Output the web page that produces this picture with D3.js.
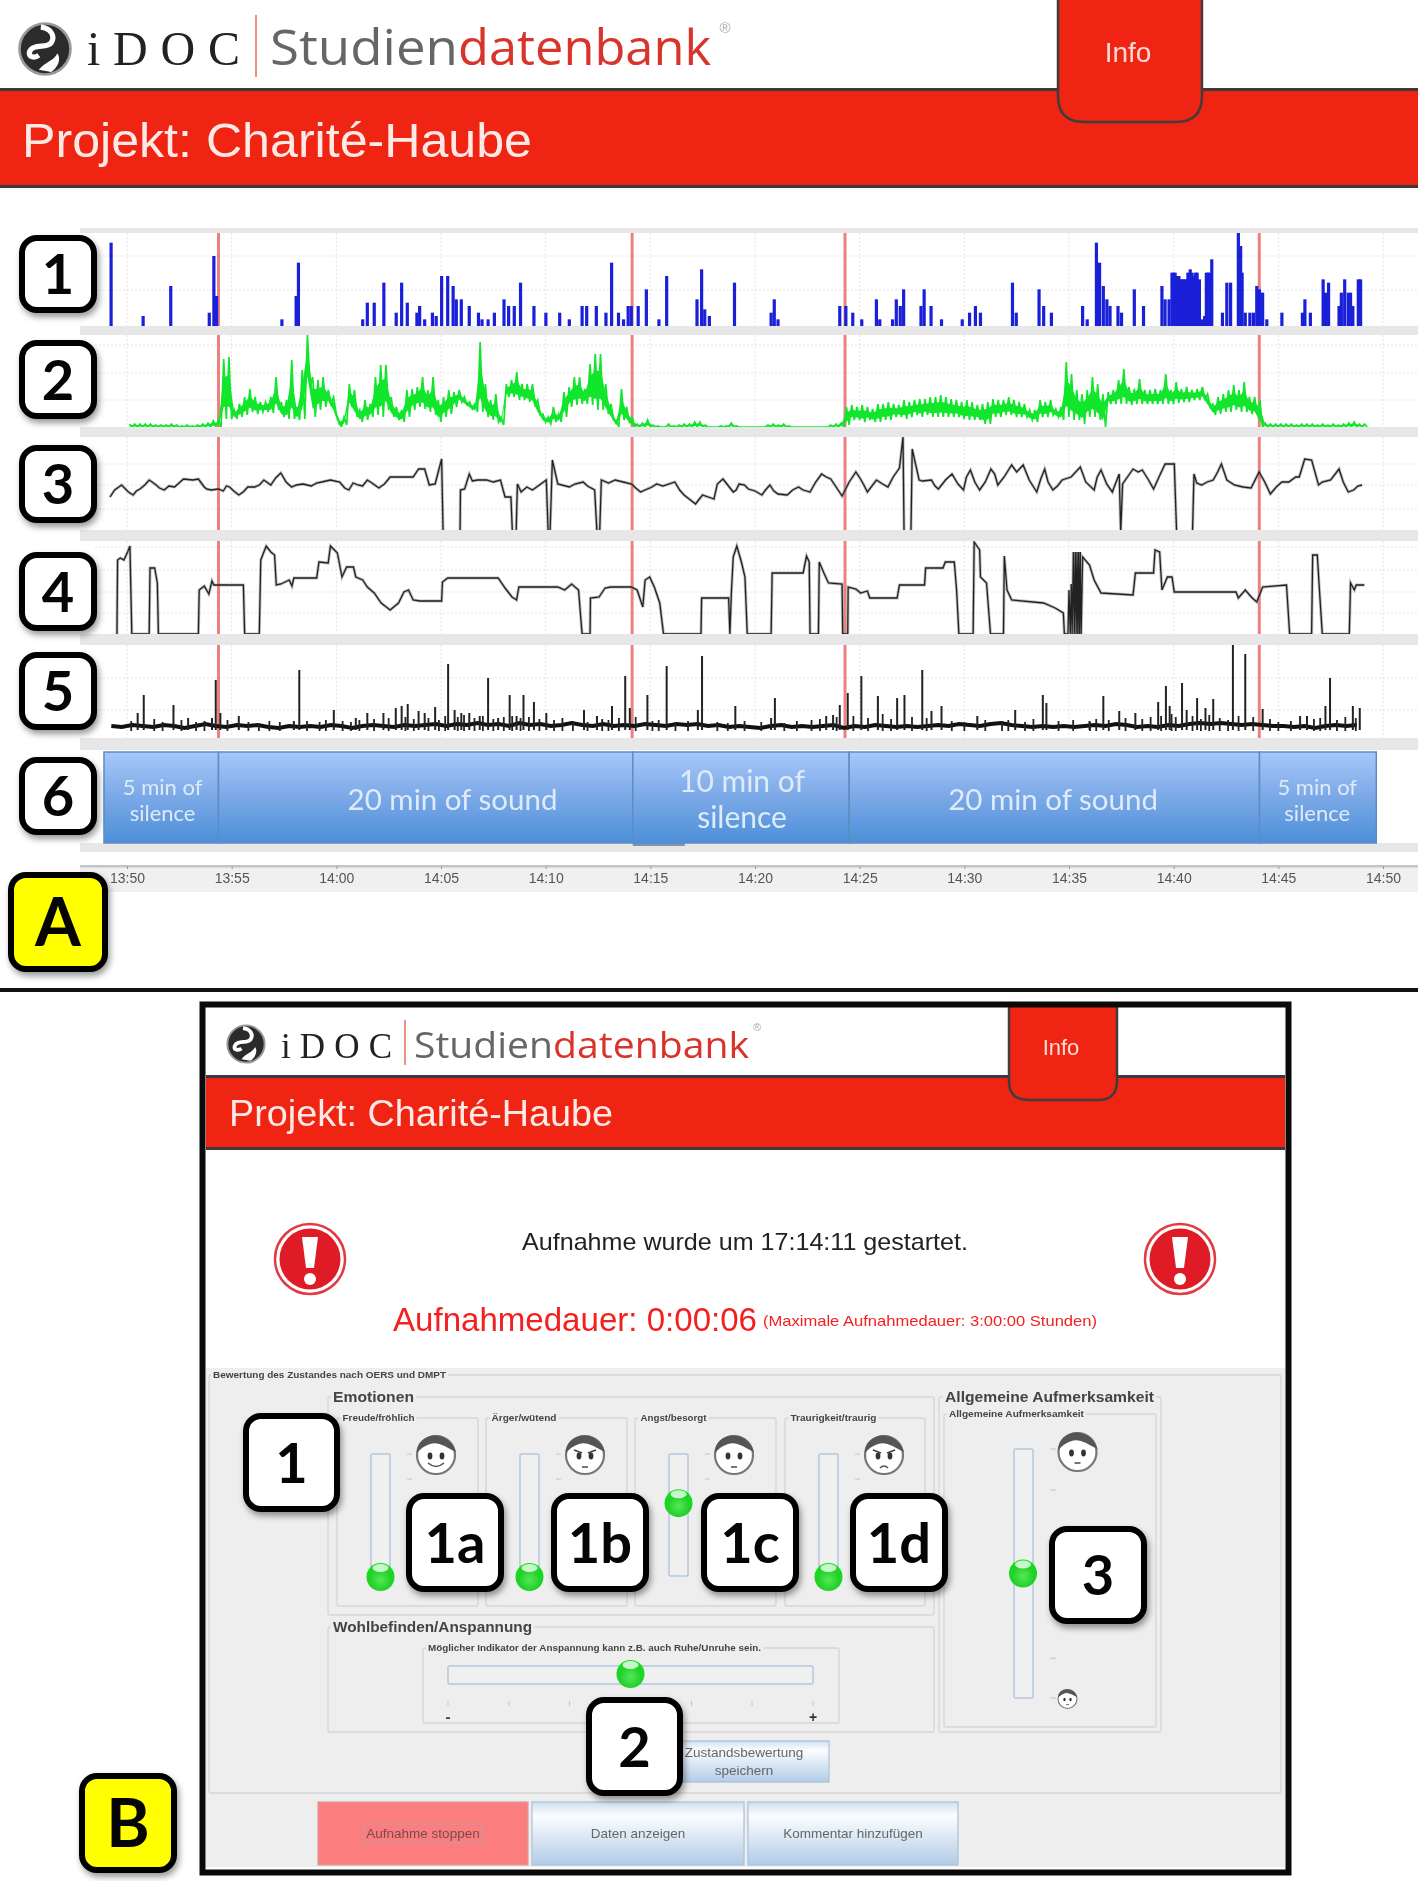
<!DOCTYPE html>
<html>
<head>
<meta charset="utf-8">
<title>iDOC Studiendatenbank</title>
<script src="https://cdn.jsdelivr.net/npm/d3@7"></script>
<style>
  html, body { margin: 0; padding: 0; background: #fff; }
  svg { display: block; filter: blur(0.7px); }
  text { font-family: "Liberation Sans", Arial, sans-serif; }
</style>
</head>
<body>
<div id="chart"></div>
<script>
// all time values are minutes after 13:50

// 1 - activity bars
var activityMinutes = [-0.76,0.77,2.09,3.93,4.15,4.28,7.40,8.08,8.19,11.26,11.48,11.81,12.27,12.86,13.12,13.39,13.85,13.98,14.22,14.59,14.77,15.03,15.32,15.58,15.73,15.97,16.35,16.79,16.96,17.25,17.55,18.01,18.23,18.50,18.80,19.44,20.01,20.67,21.13,21.74,21.96,22.42,22.88,23.15,23.48,23.72,23.94,24.09,24.42,24.81,25.41,25.78,27.23,27.45,27.60,27.82,29.02,30.77,30.92,31.10,34.05,34.34,34.67,35.10,35.80,35.96,36.57,36.75,36.94,37.10,37.93,38.08,38.41,38.91,39.90,40.25,40.53,40.77,42.30,42.48,43.57,43.79,44.16,45.65,45.87,46.31,46.46,46.64,46.81,46.96,47.34,47.51,48.12,48.56,49.44,49.59,49.78,49.92,50.0,50.07,50.16,50.25,50.33,50.40,50.49,50.58,50.68,50.79,50.88,50.97,51.05,51.12,51.23,51.38,51.48,51.56,51.64,51.71,51.82,52.33,52.54,52.72,53.09,53.2,53.27,53.42,53.64,53.81,53.97,54.1,54.25,54.45,55.17,56.15,56.27,56.53,57.14,57.25,57.31,57.40,57.90,58.01,58.17,58.34,58.45,58.56,58.82,58.93];
var activityLevels = [12.5,1.5,6,2,10.5,4.5,1,4.5,9.5,1,3.5,3.5,6.5,2,6.5,3.5,2,3,1,2,1.5,7.5,7.5,6,4,4,3,2,1,1,2,4,3,3,6.5,3,2,2,1,3,3,3,2,9.5,2,1,3,3,3,5.5,1,7.5,4,8.5,2.5,1.5,6.5,2,4,1,3,3,2,1,4,1,1,4,3,5.5,3,5.5,3,1,1,2,3,2,6.5,2,5.5,3,2,3,1,12.5,9.5,6,4,3,3,2,5.5,3,6,4,4,8,8,8,7.5,7.5,7,7,7,7,8,8.5,8,7.5,8,8,7,1,1.5,8,8,8,10,2,6.5,6.5,14,12,8,2,2,2,6,5.5,5,1,2,2,4,2,7,5,4,6.5,3,5,7,5,5,3,7,7];

// 2 - green band, one value every quarter minute from 0.12
var greenStart = 0.12, greenStep = 0.25;
var greenUpper = [3,3,3,3,3,2,2,2,3,2,1,2,1,2,3,4,6,
  7,68,70,17,23,30,38,30,25,25,
  30,50,25,27,67,20,57,92,50,47,
  50,37,30,7,10,43,37,17,27,23,
  50,62,62,30,20,17,37,38,40,50,
  37,50,27,30,37,35,37,30,25,23,
  85,43,27,33,10,43,47,55,43,43,
  43,27,13,10,20,13,35,40,50,50,
  38,63,73,73,43,23,7,38,20,10,
  3,4,7,2,1,0,3,1,2,3,
  3,5,5,2,0,0,1,1,4,1,
  0,0,0,0,0,2,3,2,3,1,
  0,0,0,0,0,0,0,2,3,4,
  20,22,20,22,20,18,23,23,25,23,
  22,27,25,27,28,28,30,30,32,30,
  28,27,25,27,25,22,23,25,28,27,
  27,30,27,25,23,17,17,27,25,27,
  18,20,65,53,37,33,37,50,43,33,
  35,37,47,58,40,38,48,37,37,38,
  37,53,37,45,38,40,37,38,40,33,
  23,30,33,37,42,37,45,30,30,27,
  4,3,3,3,3,3,2,3,3,3,2,3,2,3,2,3,4,5,3,3];
var greenLower = [0,0,0,0,0,0,0,0,0,0,0,0,0,0,0,0,0,
  0,8,8,8,10,12,15,13,15,15,
  14,17,10,8,8,7,8,40,10,17,
  20,23,13,0,2,20,10,5,7,10,
  12,10,17,10,7,5,10,17,20,18,
  15,12,5,10,13,20,25,22,18,15,
  15,10,7,5,2,30,30,27,27,25,
  22,12,5,3,5,5,10,20,22,23,
  23,22,17,17,13,7,0,7,5,0,
  0,0,0,0,0,0,0,0,0,0,
  0,0,0,0,0,0,0,0,0,0,
  0,0,0,0,0,0,0,0,0,0,
  0,0,0,0,0,0,0,0,0,0,
  2,7,7,5,7,5,5,7,7,10,
  10,8,10,12,10,12,10,10,10,10,
  10,10,8,7,7,7,3,3,10,10,
  12,12,10,10,10,7,5,10,10,12,
  10,7,10,7,7,3,10,10,7,0,
  23,23,23,23,22,23,23,23,23,23,
  23,23,23,24,25,25,27,27,28,20,
  12,13,15,15,17,15,15,13,12,0,
  0,0,0,0,0,0,0,0,0,0,0,0,0,0,0,0,0,0,0,0];

// 3 - black trace
var trace3Minutes = [-0.81,-0.59,-0.26,0.07,0.29,0.62,1.06,1.39,1.78,2.27,2.70,3.14,3.41,3.69,4.02,4.37,4.90,5.34,5.77,6.32,6.54,6.87,7.35,7.86,8.41,9.06,9.72,10.16,10.60,11.04,11.48,12.03,12.57,13.01,13.67,13.93,14.22,14.44,14.72,15.03,15.10,15.91,15.93,16.13,16.35,16.74,17.18,17.84,18.06,18.34,18.41,18.59,18.65,18.83,19.37,20.03,20.12,20.21,20.32,20.58,21.13,21.79,22.34,22.45,22.58,22.66,23.32,24.11,24.53,25.08,25.30,26.17,26.61,27.16,27.49,28.04,
  28.47,28.96,29.24,29.68,30.33,30.71,31.10,31.54,32.08,32.63,33.18,33.62,34.16,34.82,35.04,35.37,35.80,36.35,36.90,37.07,37.12,37.45,37.51,37.84,38.43,38.76,39.41,39.96,40.29,40.73,41.27,41.60,42.26,42.81,43.46,43.84,44.23,44.67,45.54,46.20,46.53,47.07,47.40,47.47,47.56,48.06,48.50,49.04,49.59,50.03,50.14,50.90,50.97,51.34,51.89,52.28,52.54,53.31,54.08,54.62,55.17,55.83,56.26,56.59,56.92,57.90,58.34,59.00,
  0.45,0.85,1.2,1.55,2.0,3.8,4.6,4.75,5.1,5.55,6.1,7.1,7.6,8.1,8.8,9.3,10.4,10.8,11.25,11.7,12.3,16.5,17.5,19.1,19.7,21.4,22.0,23.0,23.7,24.3,25.6,26.4,28.2,29.1,29.5,30.0,30.5,30.9,31.8,32.3,32.9,33.4,34.5,35.2,36.1,36.6,38.0,38.6,39.1,39.7,40.1,40.5,41.0,41.45,41.9,42.5,43.1,43.65,44.0,44.45,45.1,45.8,46.35,46.8,47.25,48.3,48.8,49.3,51.1,51.6,52.1,52.9,53.7,54.35,54.9,55.5,56.0,57.1,57.5,58.1,58.6,58.8];
var trace3Values = [35,42,47,40,37,43,52,47,42,45,53,52,53,45,42,43,45,37,45,47,52,47,59,45,48,49,52,50,42,47,52,44,55,55,55,63,63,47,48,73,0,0,42,43,58,52,52,52,35,35,0,0,48,40,42,52,0,0,72,48,45,50,42,0,0,52,52,48,40,45,48,50,37,28,37,33,
  53,40,48,43,37,47,38,37,45,40,58,53,36,60,53,40,52,45,64,95,0,0,83,52,52,43,58,42,62,42,63,47,67,67,40,63,42,52,65,42,62,40,58,0,48,63,62,43,68,68,0,0,58,47,52,68,52,45,60,38,50,55,73,72,47,63,40,47,
  41,47,50,44,46,43,41,46,41,40,45,54,50,47,46,50,44,49,46,49,48,51,50,45,47,48,46,49,50,44,46,42,48,42,47,41,42,41,42,42,50,55,50,47,48,55,51,46,52,48,55,50,50,58,55,60,52,53,50,46,55,50,55,48,50,60,52,55,49,50,60,47,44,50,45,50,55,50,52,50,42,46];

// 4 - black stepped trace
var trace4Minutes = [-0.48,-0.45,-0.32,-0.15,0.03,0.14,0.23,1.06,1.10,1.32,1.45,1.50,3.41,3.45,3.69,3.91,4.06,4.15,5.56,5.62,6.32,6.39,6.65,6.87,7.05,7.13,7.35,7.75,7.88,7.97,9.06,9.17,9.61,9.72,10.05,10.27,10.49,10.82,10.93,11.26,11.48,11.81,12.14,12.57,12.97,13.23,13.45,13.67,14.00,15.03,15.07,15.32,17.73,18.06,18.39,18.61,18.72,20.58,20.91,21.24,21.57,21.74,22.12,22.14,22.55,22.84,23.10,24.09,24.37,24.64,24.75,24.97,25.19,25.45,25.63,27.42,27.45,
  28.74,28.80,28.87,28.96,29.13,29.35,29.52,29.63,30.77,30.82,32.30,32.46,32.59,32.63,33.03,33.07,33.29,33.51,34.16,34.19,34.43,34.45,34.82,35.04,35.37,35.48,36.79,36.90,38.10,38.15,38.98,39.09,39.52,39.63,39.74,40.42,40.47,40.73,40.77,41.06,41.25,41.87,41.91,42.04,42.26,43.79,44.34,44.73,44.78,44.95,45.00,45.06,45.11,45.15,45.21,45.25,45.30,45.34,45.38,45.42,45.46,45.50,45.54,45.58,45.65,45.98,46.20,46.53,48.06,48.17,49.04,49.11,49.33,49.44,49.70,49.92,50.03,52.98,53.09,53.42,53.75,53.97,54.25,55.39,55.54,56.59,56.64,56.86,56.97,57.10,58.39,58.45,58.63,58.72,59.11];
var trace4Values = [0,74,76,74,82,88,0,0,66,66,51,0,0,44,48,40,53,49,49,0,0,74,88,82,79,49,50,54,48,56,56,72,71,88,81,57,67,67,57,54,47,41,31,24,31,42,44,34,33,33,52,56,56,46,37,34,47,47,44,50,44,0,0,36,37,46,47,47,44,27,54,57,47,31,0,0,36,
  36,0,41,77,88,72,57,0,0,61,61,78,72,0,0,72,61,51,50,0,0,47,45,41,43,36,36,49,49,66,66,72,72,44,0,0,92,84,57,51,0,0,78,44,34,31,26,21,0,0,44,0,50,0,82,0,82,0,82,0,82,0,82,0,77,69,54,41,39,61,61,84,82,44,57,57,42,42,36,44,36,32,47,49,0,0,79,79,42,0,0,51,44,49,49];

// 5 - ongoing level every half minute from -0.75, then the peaks on top of it
var levelStart = -0.75, levelStep = 0.5;
var levelValues = [12,11,13,12,11,13,12,10,12,14,
  12,11,13,12,13,11,10,12,11,12,
  11,13,12,10,12,13,12,11,13,12,
  13,14,12,14,13,15,13,14,12,15,
  13,14,12,13,15,13,12,14,12,13,
  12,14,13,12,14,13,14,12,13,11,
  12,11,10,12,13,11,12,11,12,13,
  10,12,11,13,12,11,12,11,12,13,
  12,14,13,12,14,15,13,12,11,12,
  11,12,11,12,13,12,14,13,11,12,
  11,13,12,14,15,14,15,14,13,14,
  13,12,12,11,12,10,12,13,12,13];
var peakMinutes = [0.51,0.80,2.22,2.92,4.06,4.24,4.46,5.34,7.97,8.23,9.88,10.93,11.48,12.25,12.84,13.12,13.41,13.93,14.22,14.72,15.34,15.65,15.97,16.35,16.85,17.25,17.73,18.28,18.61,18.94,19.44,20.03,21.83,22.45,23.17,23.80,24.02,24.86,25.78,27.27,27.47,29.06,30.77,30.95,33.40,33.73,34.05,34.43,35.08,35.87,36.79,37.14,37.99,38.43,38.91,40.62,42.43,43.75,43.92,45.98,46.64,47.40,48.17,49.26,49.63,49.81,50.40,50.62,51.12,51.52,51.89,52.83,53.42,54.25,56.04,56.37,57.25,57.47,58.56,58.89];
var peakValues = [25,43,33,20,20,58,25,22,17,68,28,20,25,25,30,32,34,27,25,31,74,28,25,25,22,60,20,43,22,43,36,25,28,22,32,62,30,43,72,28,82,32,20,40,22,23,33,45,62,42,40,43,68,27,32,22,28,43,35,17,42,27,25,36,52,32,55,28,40,30,39,94,84,29,22,22,32,60,32,30];
var minorMinutes = [0.2,1.3,1.7,2.6,3.3,3.7,4.8,5.8,6.3,6.8,7.3,8.6,9.2,9.5,10.3,10.7,11.1,11.8,12.5,13.3,13.7,14.4,14.9,15.2,15.8,16.1,16.6,17.0,17.5,18.0,18.4,18.8,19.2,19.7,20.4,20.8,21.3,22.0,22.7,23.0,23.5,24.3,25.1,25.4,26.2,26.8,28.2,28.7,29.5,30.3,31.4,32.0,32.7,33.1,33.9,34.7,35.4,36.1,36.5,37.5,38.2,39.4,40.0,41.0,41.8,42.1,42.9,43.3,44.5,45.2,46.0,46.3,46.9,47.7,48.5,48.9,49.4,49.9,50.1,50.9,51.3,51.7,52.2,52.6,53.1,53.8,54.6,55.0,55.6,56.7,57.0,57.8,58.2,58.7];
var minorValues = [17,19,16,18,16,17,18,16,15,17,16,17,16,18,17,16,18,19,20,21,19,20,18,22,21,23,20,22,19,21,22,20,21,19,18,20,17,16,19,18,20,21,17,18,16,17,16,15,17,16,15,17,18,19,21,22,20,24,19,21,20,17,16,18,17,18,16,19,17,18,16,19,18,20,19,21,22,24,21,22,19,23,20,18,22,21,19,16,17,19,20,18,21,20];

// 6 - protocol blocks
var blockStarts = [-1.1, 4.37, 24.16, 34.5, 54.1];
var blockEnd = 59.68;
var blockCenters = [1.7, 15.55, 29.38, 44.24, 56.86];
var blockLabels = [["5 min of", "silence"], ["20 min of sound"], ["10 min of", "silence"], ["20 min of sound"], ["5 min of", "silence"]];

var redMarks = [4.37, 24.13, 34.3, 54.09];

// panel B
var emotionLabels = ["Freude/fröhlich", "Ärger/wütend", "Angst/besorgt", "Traurigkeit/traurig"];
var emotionMoods = ["happy", "angry", "afraid", "sad"];
var emotionValues = [0, 0, 60, 0];
var tensionValue = 50;
var tensionTicks = [0, 16.7, 33.3, 50, 66.7, 83.3, 100];
var attentionValue = 50;
var attentionTicks = [100, 83.5, 16, 0];

var width = 1418, height = 1881;
var RED = "#f02413";

var svg = d3.select("#chart").append("svg")
  .attr("width", width)
  .attr("height", height)
  .style("background", "#fff");

var defs = svg.append("defs");

var shadow = defs.append("filter").attr("id", "shadow")
  .attr("x", "-20%").attr("y", "-20%").attr("width", "140%").attr("height", "140%");
shadow.append("feDropShadow").attr("dx", 2).attr("dy", 4).attr("stdDeviation", 3)
  .attr("flood-color", "#000").attr("flood-opacity", 0.4);

function gradient(id, stops) {
  var g = defs.append("linearGradient").attr("id", id)
    .attr("x1", 0).attr("y1", 0).attr("x2", 0).attr("y2", 1);
  stops.forEach(function (s) {
    g.append("stop").attr("offset", s[0]).attr("stop-color", s[1]);
  });
}
gradient("blockFill", [[0, "#a6c8fa"], [0.45, "#7fabe8"], [1, "#4c8fd8"]]);
gradient("buttonFill", [[0, "#cfe0f1"], [0.22, "#fbfdff"], [1, "#b2cce6"]]);

var knobFill = defs.append("radialGradient").attr("id", "knobFill")
  .attr("cx", "50%").attr("cy", "60%").attr("r", "55%");
knobFill.append("stop").attr("offset", 0).attr("stop-color", "#55e855");
knobFill.append("stop").attr("offset", 0.7).attr("stop-color", "#22d02a");
knobFill.append("stop").attr("offset", 1).attr("stop-color", "#10e018");

// time scale shared by all the traces
var t0 = new Date(2016, 0, 1, 13, 50);
var t = function (m) { return new Date(+t0 + m * 60000); };
var x = d3.scaleTime().domain([t(0), t(60)]).range([127, 1383]);
var tickTimes = x.ticks(d3.timeMinute.every(5));

var y1 = d3.scaleLinear().domain([0, 15]).range([326, 226]);
var y2 = d3.scaleLinear().domain([0, 100]).range([427, 327]);
var y3 = d3.scaleLinear().domain([0, 100]).range([532, 432]);
var y4 = d3.scaleLinear().domain([0, 100]).range([634, 534]);
var y5 = d3.scaleLinear().domain([0, 100]).range([738, 638]);

var panels = [
  { top: 233, bottom: 326, y: y1, grid: [5.4, 10.5] },
  { top: 335, bottom: 427, y: y2, grid: [27, 54, 82] },
  { top: 437, bottom: 530, y: y3, grid: [23, 47, 68] },
  { top: 541, bottom: 634, y: y4, grid: [21, 42, 64, 87] },
  { top: 645, bottom: 738, y: y5, grid: [28, 60] }
];

// ---------- header ----------
function logo(g, o) {
  var c = g.append("g").attr("transform", "translate(" + o.cx + "," + o.cy + ") scale(" + o.r / 25 + ")");
  c.append("circle").attr("r", 24.5).attr("fill", "#2b2b2b").attr("stroke", "#999").attr("stroke-width", 2.5);
  c.append("path").attr("d", "M-4,-21 C6,-20 10,-12 6,-6 C2,0 -12,-6 -15,3 C-16,8 -10,9 -6,6")
    .attr("fill", "none").attr("stroke", "#fff").attr("stroke-width", 5);
  c.append("path").attr("d", "M12,4 C8,12 0,12 -6,20 L6,22 C12,18 16,10 12,4 Z").attr("fill", "#fff");

  g.append("text").text("iDOC").attr("x", o.idoc[0]).attr("y", o.base)
    .attr("textLength", o.idoc[1] - o.idoc[0]).attr("lengthAdjust", "spacing")
    .style("font-family", "'Liberation Serif', serif").attr("font-size", o.idocSize).attr("fill", "#222");
  g.append("line").attr("x1", o.div[0]).attr("x2", o.div[0]).attr("y1", o.div[1]).attr("y2", o.div[2])
    .attr("stroke", "#e8776a").attr("stroke-width", 1.6);
  g.append("text").text("Studien").attr("x", o.stud[0]).attr("y", o.base)
    .attr("textLength", o.stud[1] - o.stud[0]).attr("lengthAdjust", "spacingAndGlyphs")
    .style("font-family", "'Open Sans', sans-serif").attr("font-size", o.wordSize).attr("fill", "#666");
  g.append("text").text("datenbank").attr("x", o.stud[1]).attr("y", o.base)
    .attr("textLength", o.bank - o.stud[1]).attr("lengthAdjust", "spacingAndGlyphs")
    .style("font-family", "'Open Sans', sans-serif").attr("font-size", o.wordSize).attr("fill", "#d8342c");
  g.append("text").text("®").attr("x", o.reg[0]).attr("y", o.reg[1]).attr("text-anchor", "middle")
    .attr("font-size", o.wordSize * 0.3).attr("fill", "#aaa");
}

function header(g, o) {
  g.append("rect").attr("x", o.x0).attr("y", o.line0).attr("width", o.x1 - o.x0).attr("height", o.bar1 - o.line0).attr("fill", "#3a3a3a");
  g.append("rect").attr("x", o.x0).attr("y", o.line0 + 3).attr("width", o.x1 - o.x0).attr("height", o.bar1 - o.line0 - 6).attr("fill", RED);
  var a = o.tab, r = a.r;
  g.append("path")
    .attr("d", "M" + a.x0 + "," + a.y0 + " V" + (a.y1 - r) + " Q" + a.x0 + "," + a.y1 + " " + (a.x0 + r) + "," + a.y1 +
      " H" + (a.x1 - r) + " Q" + a.x1 + "," + a.y1 + " " + a.x1 + "," + (a.y1 - r) + " V" + a.y0)
    .attr("fill", RED).attr("stroke", "#3d3d3d").attr("stroke-width", 2.5);
  g.append("text").text("Info").attr("x", (a.x0 + a.x1) / 2 - 2).attr("y", a.textY).attr("text-anchor", "middle")
    .attr("font-size", a.size).attr("fill", "#fbdcd4");
  g.append("text").text("Projekt: Charité-Haube").attr("x", o.title[0]).attr("y", o.title[2])
    .attr("textLength", o.title[1] - o.title[0]).attr("lengthAdjust", "spacingAndGlyphs")
    .attr("font-size", o.title[3]).attr("fill", "#fdeae6");
}

var top_ = svg.append("g");
header(top_, {
  x0: 0, x1: 1418, line0: 88, bar1: 188,
  tab: { x0: 1058, x1: 1202, y0: 0, y1: 122, r: 26, textY: 62, size: 28 },
  title: [22, 532, 157, 48]
});
logo(top_, { cx: 45, cy: 49, r: 26, idoc: [87, 240], base: 65, idocSize: 48, div: [256, 15, 77], stud: [270, 458], bank: 711, wordSize: 50, reg: [725, 33] });

// ---------- panel A, grid and traces ----------
var chart = svg.append("g");

panels.forEach(function (p) {
  var grid = chart.append("g").attr("stroke", "#e4e4e4").attr("stroke-dasharray", "2,2");
  grid.selectAll("line.v").data(tickTimes).enter().append("line")
    .attr("x1", function (d) { return x(d); }).attr("x2", function (d) { return x(d); })
    .attr("y1", p.top).attr("y2", p.bottom);
  grid.selectAll("line.h").data(p.grid).enter().append("line")
    .attr("x1", 95).attr("x2", 1418)
    .attr("y1", function (d) { return p.y(d); }).attr("y2", function (d) { return p.y(d); });
  // red marks between sound and silence
  chart.append("g").selectAll("line").data(redMarks).enter().append("line")
    .attr("x1", function (d) { return x(t(d)); }).attr("x2", function (d) { return x(t(d)); })
    .attr("y1", p.top).attr("y2", p.bottom)
    .attr("stroke", "#ef8080").attr("stroke-width", 3);
});

chart.append("g").selectAll("rect").data(activityMinutes).enter().append("rect")
  .attr("x", function (d) { return x(t(d)) - 1.6; })
  .attr("width", 3.2)
  .attr("y", function (d, i) { return y1(activityLevels[i]); })
  .attr("height", function (d, i) { return y1(0) - y1(activityLevels[i]); })
  .attr("fill", "#1a20d8");

// solid core of the green band, with the noisy outline drawn over it
var greenIdx = d3.range(greenUpper.length);
var greenArea = d3.area()
  .x(function (i) { return x(t(greenStart + i * greenStep)); })
  .y0(function (i) { return y2(greenLower[i] + (greenUpper[i] - greenLower[i]) * 0.2); })
  .y1(function (i) { return y2(greenUpper[i] - (greenUpper[i] - greenLower[i]) * 0.3); });
chart.append("path").attr("d", greenArea(greenIdx)).attr("fill", "#12e62c");

var zigzag = [];
greenIdx.forEach(function (i) {
  zigzag.push([greenStart + i * greenStep, greenUpper[i]]);
  zigzag.push([greenStart + (i + 0.5) * greenStep, greenLower[i]]);
});
chart.append("path")
  .attr("d", d3.line().x(function (d) { return x(t(d[0])); }).y(function (d) { return y2(d[1]); })(zigzag))
  .attr("fill", "none").attr("stroke", "#12e62c").attr("stroke-width", 1.7);

function trace(minutes, values, y) {
  var order = d3.range(minutes.length).sort(function (a, b) { return minutes[a] - minutes[b]; });
  var line = d3.line()
    .x(function (i) { return x(t(minutes[i])); })
    .y(function (i) { return y(values[i]); });
  chart.append("path").attr("d", line(order))
    .attr("fill", "none").attr("stroke", "#888").attr("stroke-opacity", 0.55).attr("stroke-width", 3);
  chart.append("path").attr("d", line(order))
    .attr("fill", "none").attr("stroke", "#222").attr("stroke-width", 1.3);
}
trace(trace3Minutes, trace3Values, y3);
trace(trace4Minutes, trace4Values, y4);

var levelLine = d3.line()
  .x(function (d, i) { return x(t(levelStart + i * levelStep)); })
  .y(function (d) { return y5(d); });
chart.append("path").attr("d", levelLine(levelValues))
  .attr("fill", "none").attr("stroke", "#111").attr("stroke-width", 4);
chart.append("g").selectAll("line").data(minorMinutes).enter().append("line")
  .attr("x1", function (d) { return x(t(d)); }).attr("x2", function (d) { return x(t(d)); })
  .attr("y1", y5(7))
  .attr("y2", function (d, i) { return y5(minorValues[i]); })
  .attr("stroke", "#222").attr("stroke-width", 1.8);
chart.append("g").selectAll("line").data(peakMinutes).enter().append("line")
  .attr("x1", function (d) { return x(t(d)); }).attr("x2", function (d) { return x(t(d)); })
  .attr("y1", y5(8))
  .attr("y2", function (d, i) { return y5(peakValues[i]); })
  .attr("stroke", "#222").attr("stroke-width", 2);

// gray bands between the panels
chart.append("g").selectAll("rect").data([[228, 233], [326, 335], [427, 437], [530, 541], [634, 645], [738, 750], [843, 852]])
  .enter().append("rect")
  .attr("x", 80).attr("width", width - 80)
  .attr("y", function (d) { return d[0]; })
  .attr("height", function (d) { return d[1] - d[0]; })
  .attr("fill", "#e7e7e7");

// ---------- protocol blocks ----------
var blocks = chart.append("g");
blocks.append("rect").attr("x", x(t(24.16))).attr("y", 842).attr("width", 52).attr("height", 4).attr("fill", "#7a94b8");
blockStarts.forEach(function (s, i) {
  var end = i < blockStarts.length - 1 ? blockStarts[i + 1] : blockEnd;
  var bx = x(t(s)), bw = x(t(end)) - bx;
  blocks.append("rect").attr("x", bx).attr("y", 752).attr("width", bw).attr("height", 91)
    .attr("fill", "url(#blockFill)").attr("stroke", "#5d8dc2").attr("stroke-width", 1.5);
  var lines = blockLabels[i];
  var size = lines.length == 1 ? 29.5 : (i == 2 ? 30 : 22);
  var baselines = lines.length == 1 ? [810] : (i == 2 ? [792, 828] : [795, 821]);
  lines.forEach(function (l, k) {
    blocks.append("text").text(l).attr("x", x(t(blockCenters[i]))).attr("y", baselines[k])
      .attr("text-anchor", "middle").attr("font-size", size)
      .style("font-family", "Lato, sans-serif").attr("fill", "#dfeafa");
  });
});

// ---------- time axis ----------
chart.append("rect").attr("x", 80).attr("y", 866).attr("width", width - 80).attr("height", 26).attr("fill", "#f0f0f0");
chart.append("rect").attr("x", 80).attr("y", 865).attr("width", width - 80).attr("height", 2.5).attr("fill", "#c4c4c4");
var axis = chart.append("g").attr("transform", "translate(0,866)")
  .call(d3.axisBottom(x).tickValues(tickTimes).tickFormat(d3.timeFormat("%H:%M")).tickSize(3).tickSizeOuter(0).tickPadding(4));
axis.select(".domain").remove();
axis.selectAll("line").attr("stroke", "#999");
axis.selectAll("text").attr("font-size", 14).attr("fill", "#555")
  .style("font-family", "'Liberation Sans', sans-serif");

// divider between A and B
svg.append("rect").attr("x", 0).attr("y", 988).attr("width", width).attr("height", 4).attr("fill", "#111");

// ---------- panel B ----------
var b = svg.append("g");
b.append("rect").attr("x", 206).attr("y", 1368).attr("width", 1079).attr("height", 499).attr("fill", "#eee");

header(b, {
  x0: 206, x1: 1285, line0: 1075, bar1: 1150,
  tab: { x0: 1009, x1: 1117, y0: 1007, y1: 1100, r: 19, textY: 1055, size: 22 },
  title: [229, 613, 1126, 36]
});
logo(b, { cx: 246, cy: 1044, r: 19, idoc: [281, 392], base: 1058, idocSize: 35, div: [405, 1020, 1065], stud: [414, 553], bank: 749, wordSize: 37, reg: [757, 1031] });

b.append("text").text("Aufnahme wurde um 17:14:11 gestartet.").attr("x", 522).attr("y", 1250)
  .attr("textLength", 446).attr("lengthAdjust", "spacingAndGlyphs").attr("font-size", 24).attr("fill", "#222");
b.append("text").text("Aufnahmedauer: 0:00:06").attr("x", 393).attr("y", 1331)
  .attr("textLength", 364).attr("lengthAdjust", "spacingAndGlyphs").attr("font-size", 33).attr("fill", "#f41f1f");
b.append("text").text("(Maximale Aufnahmedauer: 3:00:00 Stunden)").attr("x", 763).attr("y", 1326)
  .attr("textLength", 334).attr("lengthAdjust", "spacingAndGlyphs").attr("font-size", 15).attr("fill", "#f41f1f");

function warning(cx, cy) {
  var g = b.append("g").attr("transform", "translate(" + cx + "," + cy + ")");
  g.append("circle").attr("r", 35).attr("fill", "#fff").attr("stroke", "#e33a42").attr("stroke-width", 2.5);
  g.append("circle").attr("r", 30.5).attr("fill", "#df1c26");
  g.append("path").attr("d", "M-8,-22 H8 L4,9 H-4 Z").attr("fill", "#fff");
  g.append("circle").attr("cy", 20).attr("r", 6).attr("fill", "#fff");
}
warning(310, 1259);
warning(1180, 1259);

function fieldset(x0, y0, x1, y1, label, lx, lw, size, color) {
  b.append("rect").attr("x", x0).attr("y", y0).attr("width", x1 - x0).attr("height", y1 - y0)
    .attr("fill", "none").attr("stroke", "#d6d6d6").attr("stroke-width", 1.3).attr("rx", 2);
  var baseY = y0 + size * 0.36;
  b.append("rect").attr("x", lx - 2).attr("y", y0 - size * 0.7).attr("width", lw + 4).attr("height", size * 1.3).attr("fill", "#eee");
  b.append("text").text(label).attr("x", lx).attr("y", baseY)
    .attr("textLength", lw).attr("lengthAdjust", "spacingAndGlyphs")
    .attr("font-size", size).attr("font-weight", "bold").attr("fill", color || "#444");
}

fieldset(209, 1375, 1281, 1793, "Bewertung des Zustandes nach OERS und DMPT", 213, 233, 9.5);
fieldset(328, 1397, 934, 1615, "Emotionen", 333, 81, 14.5);
fieldset(328, 1627, 934, 1732, "Wohlbefinden/Anspannung", 333, 199, 15);
fieldset(939, 1397, 1161, 1732, "Allgemeine Aufmerksamkeit", 945, 209, 15);
fieldset(944, 1414, 1156, 1727, "Allgemeine Aufmerksamkeit", 949, 135, 9.5);
fieldset(423, 1648, 839, 1723, "Möglicher Indikator der Anspannung kann z.B. auch Ruhe/Unruhe sein.", 428, 333, 9.5);

function face(cx, cy, r, mood) {
  var g = b.append("g").attr("transform", "translate(" + cx + "," + cy + ") scale(" + r / 20 + ")");
  g.append("circle").attr("r", 19).attr("fill", "#fff").attr("stroke", "#777").attr("stroke-width", 2.2);
  g.append("path").attr("d", "M-19,-2 C-20,-22 12,-28 20,-3 C10,-8 2,-14 -6,-11 C-12,-9 -16,-6 -19,-2 Z").attr("fill", "#555");
  [-6, 6].forEach(function (ex) {
    g.append("ellipse").attr("cx", ex).attr("cy", 1).attr("rx", 2.4).attr("ry", 3.4).attr("fill", "#333");
  });
  var mouth = { happy: "M-8,8 Q0,15 8,8", angry: "M-3,12 H3", afraid: "M-3,12 H3", sad: "M-4,13 Q0,9 4,13", neutral: "M-3,11 H3" }[mood];
  g.append("path").attr("d", mouth).attr("fill", "none").attr("stroke", "#555").attr("stroke-width", 1.6);
  if (mood == "angry" || mood == "sad") {
    g.append("path").attr("d", "M-11,-5 L-3,-2 M11,-5 L3,-2").attr("stroke", "#444").attr("stroke-width", 1.8);
  }
}

function knob(cx, cy) {
  b.append("circle").attr("cx", cx).attr("cy", cy).attr("r", 14).attr("fill", "url(#knobFill)");
  b.append("ellipse").attr("cx", cx).attr("cy", cy - 9).attr("rx", 8).attr("ry", 4).attr("fill", "#e8fbe8").attr("opacity", 0.85);
}

var trackColor = "#b4c6de";
function track(x0, y0, w, h) {
  b.append("rect").attr("x", x0).attr("y", y0).attr("width", w).attr("height", h).attr("rx", 1.5)
    .attr("fill", "#f0f0f0").attr("stroke", trackColor).attr("stroke-width", 1.5);
}

// four emotion sliders
var emotionY = d3.scaleLinear().domain([0, 100]).range([1577, 1454]);
var emotionBoxes = [[337, 478], [486, 627], [635, 776], [785, 925]];
var emotionLegendW = [72, 65, 66, 86];
emotionLabels.forEach(function (l, i) {
  var bx = emotionBoxes[i];
  fieldset(bx[0], 1418, bx[1], 1606, l, bx[0] + 5.5, emotionLegendW[i], 9.5);
  var tx = bx[0] + 34;
  track(tx, 1454, 19, 122);
  [1454, 1479].forEach(function (ty) {
    b.append("line").attr("x1", tx + 36).attr("x2", tx + 41).attr("y1", ty).attr("y2", ty).attr("stroke", trackColor);
  });
  face(bx[0] + 99, 1455, 20, emotionMoods[i]);
  knob(tx + 9.5, emotionY(emotionValues[i]));
});

// tension slider
var tensionX = d3.scaleLinear().domain([0, 100]).range([448, 813]);
track(448, 1666, 365, 18);
b.append("g").selectAll("line").data(tensionTicks).enter().append("line")
  .attr("x1", function (d) { return tensionX(d); }).attr("x2", function (d) { return tensionX(d); })
  .attr("y1", 1701).attr("y2", 1706).attr("stroke", trackColor);
b.append("text").text("-").attr("x", tensionX(0)).attr("y", 1722).attr("text-anchor", "middle").attr("font-size", 15).attr("font-weight", "bold").attr("fill", "#333");
b.append("text").text("+").attr("x", tensionX(100)).attr("y", 1722).attr("text-anchor", "middle").attr("font-size", 14).attr("font-weight", "bold").attr("fill", "#333");
knob(tensionX(tensionValue), 1674);

// attention slider
var attentionY = d3.scaleLinear().domain([0, 100]).range([1698, 1449]);
track(1014, 1449, 19, 249);
b.append("g").selectAll("line").data(attentionTicks).enter().append("line")
  .attr("x1", 1050).attr("x2", 1056)
  .attr("y1", function (d) { return attentionY(d); }).attr("y2", function (d) { return attentionY(d); })
  .attr("stroke", trackColor);
face(1077.5, 1452, 20, "neutral");
face(1067.5, 1699, 10, "neutral");
knob(1023, attentionY(attentionValue));

// buttons
function button(x0, y0, x1, y1, lines, baselines, fill) {
  b.append("rect").attr("x", x0).attr("y", y0).attr("width", x1 - x0).attr("height", y1 - y0)
    .attr("fill", fill).attr("stroke", fill == "#fb7d7d" ? "#d9a0a0" : "#a9c2da").attr("stroke-width", 1.2);
  lines.forEach(function (l, i) {
    b.append("text").text(l).attr("x", (x0 + x1) / 2).attr("y", baselines[i]).attr("text-anchor", "middle")
      .attr("font-size", 13.5).attr("fill", fill == "#fb7d7d" ? "#764b55" : "#666");
  });
}
button(659, 1741, 829, 1782, ["Zustandsbewertung", "speichern"], [1757, 1775], "url(#buttonFill)");
button(318, 1802, 528, 1865, ["Aufnahme stoppen"], [1838], "#fb7d7d");
b.append("rect").attr("x", 364).attr("y", 1824).attr("width", 118).attr("height", 19)
  .attr("fill", "none").attr("stroke", "#b9a0b0").attr("stroke-width", 0.8);
button(532, 1802, 744, 1865, ["Daten anzeigen"], [1838], "url(#buttonFill)");
button(748, 1802, 958, 1865, ["Kommentar hinzufügen"], [1838], "url(#buttonFill)");

// frame of B
svg.append("rect").attr("x", 202.5).attr("y", 1004.5).attr("width", 1086).attr("height", 868)
  .attr("fill", "none").attr("stroke", "#0a0a0a").attr("stroke-width", 6);

// ---------- numbered labels ----------
function badge(label, x0, y0, x1, y1, size, fill) {
  var g = svg.append("g");
  g.append("rect").attr("x", x0 + 3).attr("y", y0 + 3).attr("width", x1 - x0 - 6).attr("height", y1 - y0 - 6)
    .attr("rx", 15).attr("fill", fill || "#fff").attr("stroke", "#050505").attr("stroke-width", 6)
    .attr("filter", "url(#shadow)");
  g.append("text").text(label).attr("x", (x0 + x1) / 2).attr("y", (y0 + y1) / 2).attr("dy", "0.36em")
    .attr("text-anchor", "middle").attr("font-size", size).attr("font-weight", 700)
    .style("font-family", "Lato, sans-serif").attr("fill", "#050505");
}
badge("1", 19, 235, 97, 313, 56);
badge("2", 19, 340, 97, 419, 56);
badge("3", 19, 445, 97, 523, 56);
badge("4", 19, 552, 97, 631, 56);
badge("5", 19, 652, 97, 730, 56);
badge("6", 19, 757, 97, 835, 56);
badge("A", 8, 872, 108, 972, 66, "#ffff00");
badge("B", 79, 1773, 177, 1873, 66, "#ffff00");
badge("1", 243, 1413, 340, 1512, 56);
badge("1a", 406, 1493, 504, 1592, 56);
badge("1b", 551, 1493, 649, 1592, 56);
badge("1c", 701, 1493, 799, 1592, 56);
badge("1d", 850, 1493, 948, 1592, 56);
badge("3", 1049, 1526, 1147, 1624, 56);
badge("2", 586, 1697, 683, 1796, 56);
</script>
</body>
</html>
